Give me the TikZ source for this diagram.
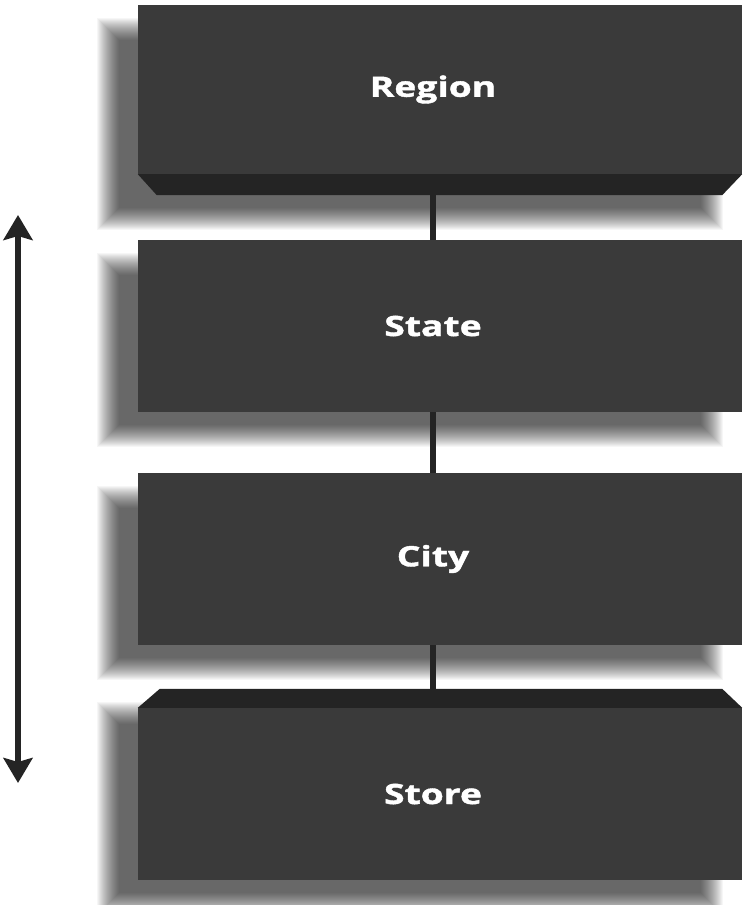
\documentclass[tikz,border=0pt]{standalone}
\usepackage{fontspec}
\setmainfont{Open Sans}[FakeStretch=1.33, BoldFeatures={FakeBold=1.5}]
\usetikzlibrary{arrows.meta,backgrounds}

\definecolor{slab}{RGB}{58,58,58}
\definecolor{slabedge}{RGB}{36,36,36}
\definecolor{ink}{RGB}{36,36,36}

\tikzset{
	level/.style={fill=slab, minimum width=604pt, minimum height=172pt, inner sep=0pt},
	levelname/.style={text=white, xshift=-7pt, font=\bfseries\fontsize{28}{32}\selectfont},
	shadowlayer/.style={fill=black, opacity=0.035},
	bevel/.style={fill=slabedge},
	link/.style={draw=ink, line width=6pt},
}

\begin{document}
\begin{tikzpicture}[x=1pt,y=-1pt,>={Stealth[length=25pt,width=29pt,inset=4pt]}]
\useasboundingbox (0,0) rectangle (745,905);

\node[level, minimum height=169pt, label={[levelname]center:Region}] (Region) at (440,89.5) {};
\node[level, label={[levelname]center:State}] (State) at (440,326) {};
\node[level, label={[levelname]center:City}]  (City)  at (440,559) {};
\node[level, label={[levelname]center:Store}] (Store) at (440,794) {};

% bevelled edges
\fill[bevel] (Region.south west) -- (Region.south east) -- ++(-20,21)
	-- ([shift={(19,21)}]Region.south west) -- cycle;
\fill[bevel] (Store.north west) -- (Store.north east) -- ++(-20,-19)
	-- ([shift={(22,-19)}]Store.north west) -- cycle;

\coordinate (regionbase) at ([yshift=-21pt]Region.south);
\coordinate (regionfoot) at (regionbase -| Region.east);
\coordinate (storecap) at ([yshift=19pt]Store.north);
\coordinate (storehead) at (storecap -| Store.west);
\coordinate (spine) at (433,0);

% soft shadows, down and to the left
\begin{scope}[on background layer]
	\fill[white] (0,0) rectangle (745,905);
	\foreach \from/\to in {Region.north west/regionfoot, State.north west/State.south east,
			City.north west/City.south east, storehead/Store.south east}
		\foreach \k in {-11,...,11}
			\fill[shadowlayer] ([shift={(-30-\k,24-\k)}]\from) rectangle ([shift={(-30+\k,24+\k)}]\to);
\end{scope}

% links between levels
\draw[link] (regionbase -| spine) -- (State.north -| spine);
\draw[link] (State.south -| spine) -- (City.north -| spine);
\draw[link] (City.south -| spine) -- (storecap -| spine);

% drill direction
\coordinate (up) at (18,215);
\coordinate (down) at (18,783);
\draw[<->, ink, line width=6pt] (up) -- (down);
\end{tikzpicture}
\end{document}
